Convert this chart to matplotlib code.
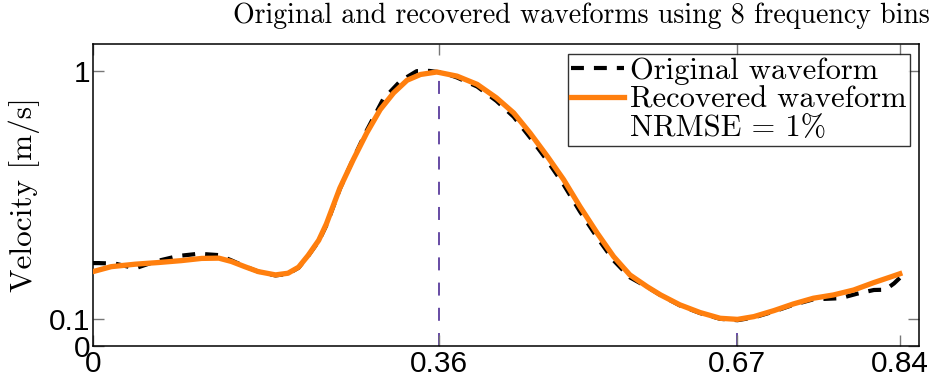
import numpy as np
import matplotlib
matplotlib.use("Agg")
import matplotlib.pyplot as plt

# time [s] and velocity [m/s]
t_rec = [0.0, 0.019, 0.044, 0.068, 0.092, 0.113, 0.131, 0.144, 0.158, 0.172, 0.190,
         0.203, 0.214, 0.224, 0.235, 0.243, 0.257, 0.271, 0.285, 0.299, 0.313, 0.327,
         0.341, 0.358, 0.379, 0.400, 0.420, 0.438, 0.455, 0.473, 0.490, 0.507, 0.525,
         0.542, 0.559, 0.577, 0.591, 0.611, 0.632, 0.653, 0.671, 0.688, 0.709, 0.729,
         0.750, 0.771, 0.792, 0.813, 0.830, 0.840]
v_rec = [0.271, 0.289, 0.298, 0.304, 0.311, 0.319, 0.320, 0.308, 0.289, 0.271, 0.259,
         0.265, 0.287, 0.330, 0.385, 0.445, 0.575, 0.679, 0.776, 0.861, 0.922, 0.968,
         0.989, 0.998, 0.983, 0.953, 0.904, 0.849, 0.776, 0.691, 0.606, 0.508, 0.411,
         0.326, 0.259, 0.216, 0.186, 0.150, 0.122, 0.101, 0.097, 0.107, 0.129, 0.153,
         0.174, 0.186, 0.204, 0.231, 0.251, 0.263]

t_orig = [0.0, 0.006, 0.023, 0.044, 0.065, 0.089, 0.110, 0.131, 0.144, 0.158, 0.172,
          0.190, 0.203, 0.214, 0.224, 0.235, 0.243, 0.257, 0.271, 0.285, 0.302, 0.320,
          0.337, 0.350, 0.365, 0.379, 0.400, 0.420, 0.438, 0.455, 0.473, 0.490, 0.507,
          0.525, 0.542, 0.559, 0.577, 0.591, 0.611, 0.632, 0.653, 0.671, 0.688, 0.709,
          0.729, 0.750, 0.778, 0.795, 0.813, 0.825, 0.834, 0.840]
v_orig = [0.302, 0.302, 0.300, 0.283, 0.308, 0.328, 0.336, 0.331, 0.312, 0.290, 0.271,
          0.257, 0.263, 0.285, 0.328, 0.382, 0.440, 0.572, 0.682, 0.785, 0.898, 0.965,
          1.001, 1.002, 0.995, 0.978, 0.945, 0.893, 0.835, 0.760, 0.675, 0.588, 0.490,
          0.395, 0.312, 0.250, 0.215, 0.185, 0.148, 0.120, 0.099, 0.094, 0.104, 0.126,
          0.150, 0.170, 0.174, 0.190, 0.204, 0.205, 0.228, 0.248]

t_marks = [0.36, 0.67]
v_marks = [1.0, 0.097]

x_ticks = [0, 0.36, 0.67, 0.84]
x_ticklabels = ["0", "0.36", "0.67", "0.84"]
y_ticks = [0, 0.1, 1]
y_ticklabels = ["0", "0.1", "1"]

SERIF = "cmr10"
SANS = "Liberation Sans"

fig = plt.figure(figsize=(9.44, 3.89), dpi=100)
ax = fig.add_axes([93 / 944, 1 - 346 / 389, (919 - 93) / 944, (346 - 44) / 389])

for tm, vm in zip(t_marks, v_marks):
    ax.plot([tm, tm], [0, vm], color="#3d1a8c", lw=1.1, dashes=(8.5, 8), zorder=1)

ax.plot(t_orig, v_orig, color="black", lw=3, dashes=(3.1, 2.4), label="Original waveform", zorder=2)
ax.plot(t_rec, v_rec, color="#ff7f0e", lw=3.8, label="Recovered waveform", zorder=3)
ax.plot([], [], color="none", label="NRMSE = 1%")

ax.set_xlim(0, 0.86)
ax.set_ylim(0, 1.1)
ax.set_xticks(x_ticks)
ax.set_xticklabels(x_ticklabels, fontsize=21.5, family=SANS)
ax.set_yticks(y_ticks)
ax.set_yticklabels(y_ticklabels, fontsize=21.5, family=SANS)
ax.tick_params(direction="in", length=8, width=1, color="#777777", top=True, right=True, pad=3)
ax.tick_params(axis="y", pad=2)
for s in ax.spines.values():
    s.set_linewidth(1.1)

ax.set_ylabel("Velocity [m/s]", fontsize=22.5, family=SERIF, labelpad=6)

leg = ax.legend(loc="upper right", bbox_to_anchor=((910 - 93) / 826, (346 - 54) / 302),
                prop={"family": SERIF, "size": 22}, frameon=True, fancybox=False,
                edgecolor="black", borderpad=0.1, labelspacing=0.05, handlelength=1.75,
                handletextpad=0.2, borderaxespad=0)
leg.get_frame().set_linewidth(1.0)

fig.text(930 / 944, 0.925, "Original and recovered waveforms using 8 frequency bins",
         ha="right", va="bottom", fontsize=20.1, family=SERIF)

fig.savefig("out.png", dpi=100)
